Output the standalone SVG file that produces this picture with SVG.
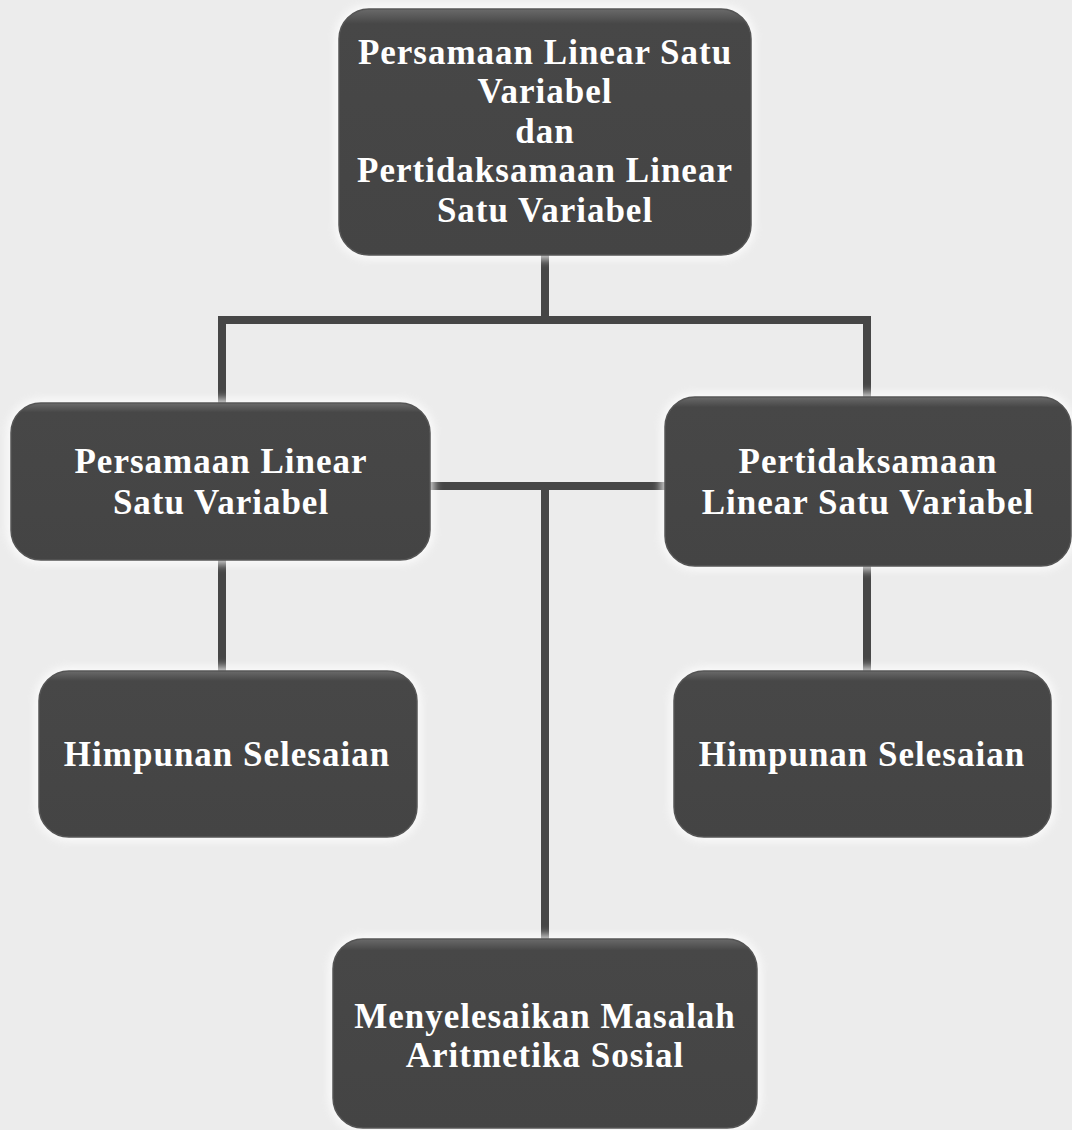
<svg xmlns="http://www.w3.org/2000/svg" width="1072" height="1130" viewBox="0 0 1072 1130">
<defs>
<style>
.box{fill:url(#shade);stroke:#555555;stroke-width:1.5}
.glow{fill:#ffffff;opacity:0.8;filter:url(#blur)}
.lbl{font-family:"Liberation Serif","Times New Roman",serif;font-weight:bold;font-size:35px;letter-spacing:1px;fill:#ffffff;text-anchor:middle}
.conn{stroke:#464646;stroke-width:8;fill:none;stroke-linecap:square}
</style>
<filter id="blur" x="-10%" y="-10%" width="120%" height="120%"><feGaussianBlur stdDeviation="4"/></filter>
<linearGradient id="shade" x1="0" y1="0" x2="0" y2="1">
<stop offset="0" stop-color="#6a6a6a"/>
<stop offset="0.06" stop-color="#474747"/>
<stop offset="1" stop-color="#444444"/>
</linearGradient>
</defs>
<rect width="1072" height="1130" fill="#ececec"/>
<g id="connectors">
<path class="conn" d="M545 255 V320 M222 320 H867 M222 320 V403 M867 320 V397"/>
<path class="conn" d="M430 486 H665 M545 486 V939"/>
<path class="conn" d="M222 560 V671 M867 566 V671"/>
</g>
<g id="n1">
<rect class="glow" x="335" y="5" width="420" height="254" rx="34"/>
<rect class="box" x="339" y="9" width="412" height="246" rx="30"/>
<text class="lbl" x="545" y="64">Persamaan Linear Satu</text>
<text class="lbl" x="545" y="103">Variabel</text>
<text class="lbl" x="545" y="143">dan</text>
<text class="lbl" x="545" y="182">Pertidaksamaan Linear</text>
<text class="lbl" x="545" y="222">Satu Variabel</text>
</g>
<g id="n2">
<rect class="glow" x="7" y="399" width="427" height="165" rx="34"/>
<rect class="box" x="11" y="403" width="419" height="157" rx="30"/>
<text class="lbl" x="221" y="473">Persamaan Linear</text>
<text class="lbl" x="221" y="514">Satu Variabel</text>
</g>
<g id="n3">
<rect class="glow" x="661" y="393" width="414" height="177" rx="34"/>
<rect class="box" x="665" y="397" width="406" height="169" rx="30"/>
<text class="lbl" x="868" y="473">Pertidaksamaan</text>
<text class="lbl" x="868" y="514">Linear Satu Variabel</text>
</g>
<g id="n4">
<rect class="glow" x="35" y="667" width="386" height="174" rx="34"/>
<rect class="box" x="39" y="671" width="378" height="166" rx="30"/>
<text class="lbl" x="227" y="766">Himpunan Selesaian</text>
</g>
<g id="n5">
<rect class="glow" x="670" y="667" width="385" height="174" rx="34"/>
<rect class="box" x="674" y="671" width="377" height="166" rx="30"/>
<text class="lbl" x="862" y="766">Himpunan Selesaian</text>
</g>
<g id="n6">
<rect class="glow" x="329" y="935" width="432" height="197" rx="34"/>
<rect class="box" x="333" y="939" width="424" height="189" rx="30"/>
<text class="lbl" x="545" y="1028">Menyelesaikan Masalah</text>
<text class="lbl" x="545" y="1067">Aritmetika Sosial</text>
</g>
</svg>
